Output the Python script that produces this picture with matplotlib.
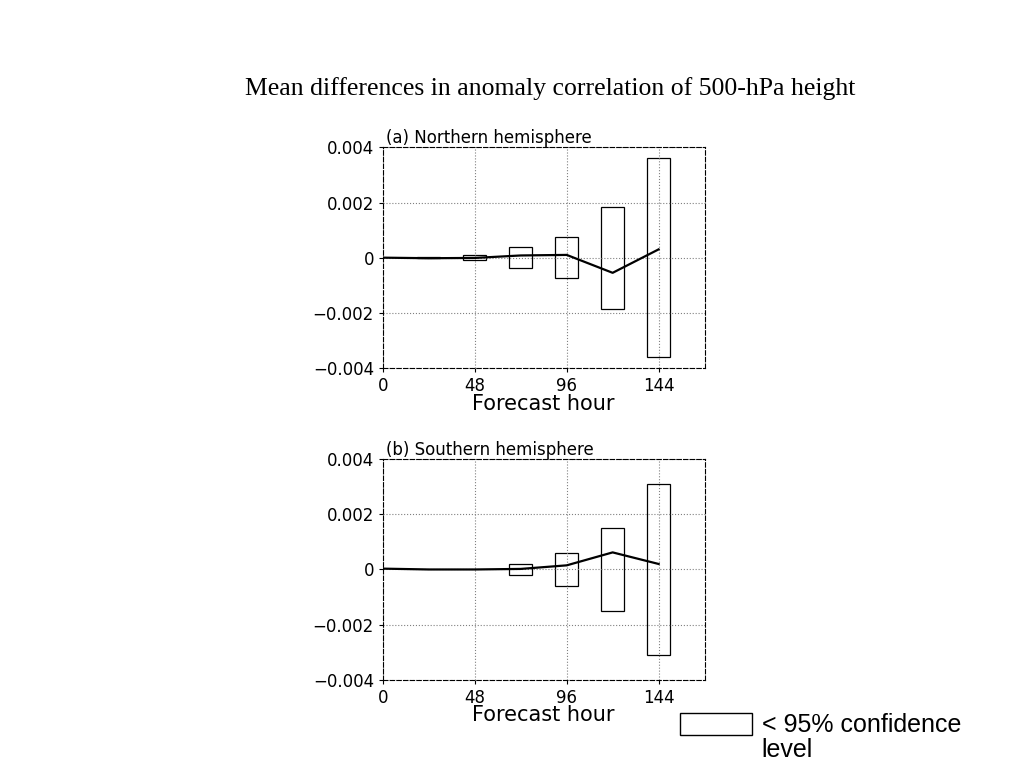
import matplotlib
matplotlib.use("Agg")
import matplotlib.pyplot as plt
from matplotlib.patches import Rectangle

hours = [0, 24, 48, 72, 96, 120, 144]
nh_mean = [0.0, -0.00002, -0.00001, 0.00008, 0.0001, -0.00055, 0.0003]
nh_ci = [0.0, 0.00003, 0.0001, 0.00037, 0.00075, 0.00185, 0.0036]
sh_mean = [0.00003, 0.0, 0.0, 0.00002, 0.00015, 0.00062, 0.0002]
sh_ci = [0.0, 0.0, 0.0, 0.0002, 0.0006, 0.0015, 0.0031]
yticks = [-0.004, -0.002, 0, 0.002, 0.004]
ylabels = ["\u22120.004", "\u22120.002", "0", "0.002", "0.004"]

fig = plt.figure(figsize=(10.24, 7.68), dpi=100)
fig.text(0.537, 0.885, "Mean differences in anomaly correlation of 500-hPa height",
         ha="center", va="center", fontsize=18.5, family="Liberation Serif")

def panel(rect, mean, ci, label):
    ax = fig.add_axes(rect)
    ax.set_xlim(0, 168)
    ax.set_ylim(-0.004, 0.004)
    for h, c in zip(hours, ci):
        if c > 0:
            ax.add_patch(Rectangle((h - 6, -c), 12, 2 * c, fill=False, ec="black", lw=0.9))
    ax.plot(hours, mean, color="black", lw=1.6)
    ax.set_xticks([0, 48, 96, 144])
    ax.set_yticks(yticks)
    ax.set_yticklabels(ylabels)
    ax.grid(True, ls=":", color="gray", lw=0.8)
    ax.tick_params(labelsize=12, direction="out", length=3)
    ax.set_xlabel("Forecast hour", fontsize=15, labelpad=-1)
    ax.set_title(label, loc="left", fontsize=12, pad=3, x=0.01)
    for s in ax.spines.values():
        s.set_linestyle((0, (4, 2)))
        s.set_linewidth(0.8)
    return ax

panel([0.374, 0.521, 0.314, 0.287], nh_mean, nh_ci, "(a) Northern hemisphere")
panel([0.374, 0.115, 0.314, 0.287], sh_mean, sh_ci, "(b) Southern hemisphere")

fig.patches.append(Rectangle((0.664, 0.043), 0.070, 0.029, fill=False, ec="black",
                             lw=1.0, transform=fig.transFigure))
fig.text(0.744, 0.072, "< 95% confidence\nlevel", ha="left", va="top", fontsize=18,
         family="Liberation Sans", linespacing=1.05)
fig.savefig("out.png", dpi=100)
